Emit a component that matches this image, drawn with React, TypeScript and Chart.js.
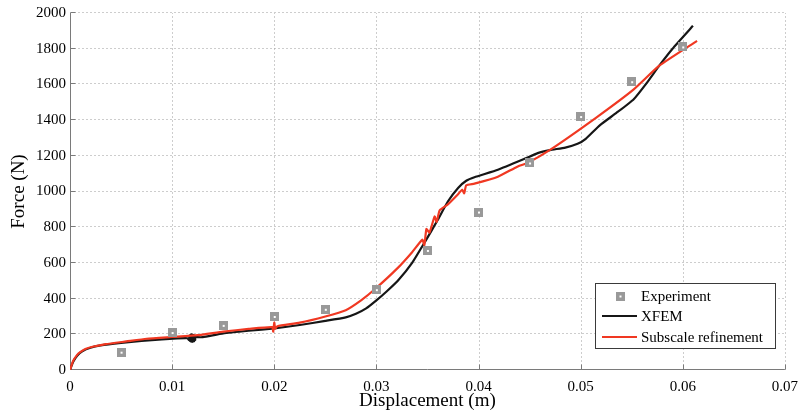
import React, { useEffect, useRef } from 'react';
import { Chart, registerables } from 'chart.js';

Chart.register(...registerables);

// Axis ticks
const xTickValues = [0, 0.01, 0.02, 0.03, 0.04, 0.05, 0.06, 0.07];
const yTickValues = [0, 200, 400, 600, 800, 1000, 1200, 1400, 1600, 1800, 2000];

// Experiment (measured force vs. displacement)
const expX = [0.005, 0.01, 0.015, 0.02, 0.025, 0.03, 0.035, 0.04, 0.045, 0.05, 0.055, 0.06];
const expY = [100, 210, 250, 300, 340, 450, 670, 885, 1160, 1420, 1615, 1810];

// XFEM simulation
const xfemX = [
  0, 0.0003, 0.0007, 0.0012, 0.002, 0.003, 0.005, 0.007, 0.009, 0.0105, 0.0115,
  0.01165, 0.0117, 0.01175, 0.0118, 0.01185, 0.0119, 0.01195, 0.012, 0.01205, 0.0121,
  0.01215, 0.0122, 0.01225, 0.0123, 0.0125, 0.013,
  0.015, 0.0175, 0.02, 0.0225, 0.025, 0.027, 0.028, 0.029, 0.03, 0.031, 0.0321, 0.0335,
  0.0348, 0.036, 0.037, 0.038, 0.0388, 0.0396, 0.0419, 0.0445, 0.0458, 0.047, 0.0485,
  0.0497, 0.0505, 0.0519, 0.0535, 0.0552, 0.0565, 0.0577, 0.059, 0.061,
];
const xfemY = [
  0, 45, 80, 105, 125, 138, 152, 163, 172, 177, 178,
  168, 192, 163, 197, 160, 199, 158, 198, 160, 196,
  162, 192, 168, 186, 184, 184,
  205, 220, 233, 252, 275, 295, 315, 345, 390, 440, 500, 600,
  722, 840, 944, 1020, 1060, 1080, 1122, 1183, 1215, 1232, 1246,
  1267, 1295, 1372, 1440, 1517, 1610, 1705, 1800, 1928,
];

// Subscale refinement simulation
const subX = [
  0, 0.0003, 0.0007, 0.001, 0.0015, 0.0022, 0.0035, 0.0055, 0.0075, 0.01, 0.0125,
  0.015, 0.0175, 0.0198, 0.0199, 0.02, 0.0201, 0.0203, 0.0225, 0.025, 0.027,
  0.0285, 0.0299, 0.0321, 0.0335, 0.0345, 0.0347, 0.0349, 0.0352, 0.0357, 0.0359,
  0.0362, 0.037, 0.038, 0.0384, 0.0386, 0.0388, 0.0396, 0.0419, 0.0438, 0.0448,
  0.047, 0.0516, 0.0552, 0.0577, 0.0614,
];
const subY = [
  0, 50, 85, 100, 118, 130, 145, 160, 175, 185, 195,
  215, 230, 240, 215, 265, 232, 245, 265, 300, 335,
  390, 455, 572, 660, 730, 700, 790, 770, 860, 830,
  895, 928, 985, 1010, 990, 1035, 1044, 1083, 1139, 1160,
  1233, 1417, 1572, 1705, 1844,
];

const RED = 'rgb(240, 56, 34)';
const BLACK = '#161616';
const MARKER_GRAY = '#999999';
const GRID_GRAY = '#9a9a9a';
const SERIF = '"Liberation Serif", "Times New Roman", serif';

function makeMarker(): HTMLCanvasElement {
  const c = document.createElement('canvas');
  c.width = 9;
  c.height = 9;
  const g = c.getContext('2d')!;
  g.fillStyle = MARKER_GRAY;
  g.fillRect(0, 0, 9, 9);
  g.fillStyle = '#ffffff';
  g.fillRect(4, 4, 2, 2);
  return c;
}

const fmtX = (v: number) => (v === 0 ? '0' : v.toFixed(2));

export default function App() {
  const ref = useRef<HTMLCanvasElement | null>(null);

  useEffect(() => {
    if (!ref.current) return;
    const marker = makeMarker();

    const framePlugin = {
      id: 'frame',
      beforeDatasetsDraw(chart: any) {
        const { ctx, chartArea } = chart;
        const { left, right, top, bottom } = chartArea;
        const xs = chart.scales.x;
        const ys = chart.scales.y;
        const L = Math.round(left) + 0.5;
        const B = Math.round(bottom) - 0.5;

        // dotted grid
        ctx.save();
        ctx.strokeStyle = GRID_GRAY;
        ctx.lineWidth = 1;
        ctx.setLineDash([1, 3]);
        ctx.beginPath();
        xTickValues.forEach((v) => {
          if (v === 0) return;
          const px = Math.round(xs.getPixelForValue(v)) + 0.5;
          ctx.moveTo(px, B);
          ctx.lineTo(px, top);
        });
        yTickValues.forEach((v) => {
          if (v === 0) return;
          const py = Math.round(ys.getPixelForValue(v)) - 0.5;
          ctx.moveTo(L, py);
          ctx.lineTo(right, py);
        });
        ctx.stroke();
        ctx.restore();

        // axes with inward tick marks
        ctx.save();
        ctx.strokeStyle = '#7a7a7a';
        ctx.lineWidth = 1;
        ctx.beginPath();
        ctx.moveTo(L, top);
        ctx.lineTo(L, B);
        ctx.lineTo(right, B);
        xTickValues.forEach((v) => {
          const px = Math.round(xs.getPixelForValue(v)) + 0.5;
          ctx.moveTo(px, B);
          ctx.lineTo(px, B - 5);
        });
        yTickValues.forEach((v) => {
          const py = Math.round(ys.getPixelForValue(v)) - 0.5;
          ctx.moveTo(L, py);
          ctx.lineTo(L + 5, py);
        });
        ctx.stroke();
        ctx.restore();
      },
      afterDraw(chart: any) {
        const { ctx, chartArea } = chart;
        ctx.save();
        // axis titles
        ctx.fillStyle = '#000';
        ctx.font = `19px ${SERIF}`;
        ctx.textAlign = 'center';
        ctx.textBaseline = 'alphabetic';
        ctx.fillText('Displacement (m)', (chartArea.left + chartArea.right) / 2, 406);
        ctx.translate(24, (chartArea.top + chartArea.bottom) / 2);
        ctx.rotate(-Math.PI / 2);
        ctx.fillText('Force (N)', 0, 0);
        ctx.restore();

        // legend
        const ds = chart.data.datasets;
        ctx.save();
        const bx = 595.5, by = 283.5, bw = 180, bh = 65;
        ctx.fillStyle = '#ffffff';
        ctx.fillRect(bx, by, bw, bh);
        ctx.strokeStyle = '#3a3a3a';
        ctx.lineWidth = 1;
        ctx.strokeRect(bx, by, bw, bh);
        ctx.font = `15px ${SERIF}`;
        ctx.fillStyle = '#000';
        ctx.textAlign = 'left';
        ctx.textBaseline = 'middle';
        const rows = [296, 316, 337];
        ds.forEach((d: any, i: number) => {
          const y = rows[i];
          if (d.showLine) {
            ctx.strokeStyle = d.borderColor;
            ctx.lineWidth = 2;
            ctx.beginPath();
            ctx.moveTo(602, y);
            ctx.lineTo(637, y);
            ctx.stroke();
          } else {
            ctx.drawImage(marker, 620 - 4.5, y - 4.5);
          }
          ctx.fillText(d.label, 641, y + 1);
        });
        ctx.restore();
      },
    };

    const chart = new Chart(ref.current, {
      type: 'scatter',
      data: {
        datasets: [
          {
            label: 'Experiment',
            data: expX.map((x, i) => ({ x, y: expY[i] })),
            showLine: false,
            pointStyle: marker as any,
            pointRadius: 5,
            borderColor: MARKER_GRAY,
            backgroundColor: MARKER_GRAY,
            order: 0,
          },
          {
            label: 'XFEM',
            data: xfemX.map((x, i) => ({ x, y: xfemY[i] })),
            showLine: true,
            borderColor: BLACK,
            backgroundColor: BLACK,
            borderWidth: 2.2,
            pointRadius: 0,
            tension: 0.15,
            order: 2,
          },
          {
            label: 'Subscale refinement',
            data: subX.map((x, i) => ({ x, y: subY[i] })),
            showLine: true,
            borderColor: RED,
            backgroundColor: RED,
            borderWidth: 2.2,
            pointRadius: 0,
            tension: 0.15,
            order: 1,
          },
        ],
      },
      options: {
        responsive: false,
        animation: false,
        events: [],
        layout: { padding: { left: 0, right: 17, top: 10, bottom: 0 } },
        plugins: {
          legend: { display: false },
          tooltip: { enabled: false },
        },
        scales: {
          x: {
            type: 'linear',
            min: 0,
            max: 0.07,
            afterBuildTicks: (s: any) => {
              s.ticks = xTickValues.map((v) => ({ value: v }));
            },
            afterFit: (s: any) => {
              s.height = 45;
            },
            border: { display: false },
            grid: { display: false, drawTicks: false },
            ticks: {
              padding: 8,
              color: '#000',
              font: { family: SERIF, size: 15 },
              maxRotation: 0,
              callback: (v: any) => fmtX(Number(v)),
            },
          },
          y: {
            type: 'linear',
            min: 0,
            max: 2000,
            afterBuildTicks: (s: any) => {
              s.ticks = yTickValues.map((v) => ({ value: v }));
            },
            afterFit: (s: any) => {
              s.width = 70;
            },
            border: { display: false },
            grid: { display: false, drawTicks: false },
            ticks: {
              padding: 4,
              color: '#000',
              font: { family: SERIF, size: 15 },
              callback: (v: any) => String(v),
            },
          },
        },
      },
      plugins: [framePlugin],
    });

    return () => chart.destroy();
  }, []);

  return (
    <div style={{ position: 'fixed', left: 0, top: 0, width: 806, height: 415, background: '#fff' }}>
      <canvas ref={ref} width={806} height={415} style={{ display: 'block' }} />
    </div>
  );
}
